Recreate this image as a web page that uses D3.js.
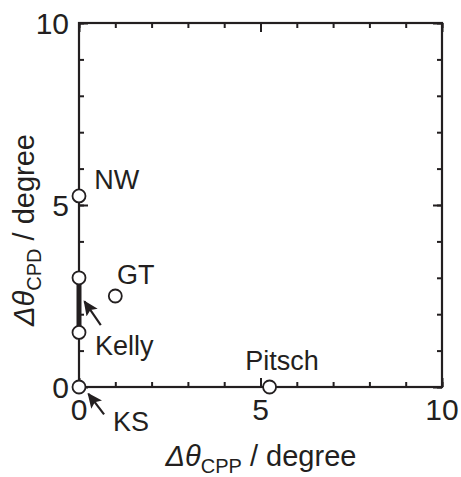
<!DOCTYPE html>
<html>
<head>
<meta charset="utf-8">
<script src="https://cdn.jsdelivr.net/npm/d3@7"></script>
<style>
  body { margin: 0; background: #fff; }
  svg { display: block; }
  text { font-family: "Liberation Sans", Arial, sans-serif; fill: #231f20; }
</style>
</head>
<body>
<div id="chart"></div>
<script>
// models and their deviations (degree)
const models = ["KS", "Kelly", "GT", "NW", "Pitsch"];
const cppValues = [0, 0, 1.0, 0, 5.25];
const cpdValues = [0, 1.5, 2.5, 5.25, 0];
// Kelly spans a range along the CPD axis
const kellyRange = [1.5, 3.0];
const majorTicks = [0, 5, 10];
const minorTicks = d3.range(0, 11);

const width = 461;
const height = 477;
const margin = { left: 79, top: 23, right: 19, bottom: 90 };
const ink = "#231f20";

const x = d3.scaleLinear().domain([0, 10]).range([margin.left, width - margin.right]);
const y = d3.scaleLinear().domain([0, 10]).range([height - margin.bottom, margin.top]);

const svg = d3.select("#chart").append("svg")
    .attr("width", width)
    .attr("height", height);

const defs = svg.append("defs");
defs.append("marker")
    .attr("id", "head")
    .attr("viewBox", "0 0 10 10")
    .attr("refX", 9)
    .attr("refY", 5)
    .attr("markerWidth", 15)
    .attr("markerHeight", 15)
    .attr("markerUnits", "userSpaceOnUse")
    .attr("orient", "auto")
    .append("path")
    .attr("d", "M0,0.5 L10,5 L0,9.5 L2,5 Z")
    .attr("fill", ink);

// ticks, all pointing inward
function drawAxis(axis, transform, values, size) {
    const g = svg.append("g")
        .attr("transform", transform)
        .call(axis.tickValues(values).tickSize(size).tickSizeOuter(0).tickFormat(""));
    g.select(".domain").remove();
    g.selectAll(".tick line").attr("stroke", ink).attr("stroke-width", 2);
}
[[minorTicks, 5], [majorTicks, 9]].forEach(([vals, len]) => {
    drawAxis(d3.axisBottom(x), `translate(0,${y(0)})`, vals, -len);
    drawAxis(d3.axisTop(x), `translate(0,${y(10)})`, vals, -len);
    drawAxis(d3.axisLeft(y), `translate(${x(0)},0)`, vals, -len);
    drawAxis(d3.axisRight(y), `translate(${x(10)},0)`, vals, -len);
});

svg.append("rect")
    .attr("x", x(0))
    .attr("y", y(10))
    .attr("width", x(10) - x(0))
    .attr("height", y(0) - y(10))
    .attr("fill", "none")
    .attr("stroke", ink)
    .attr("stroke-width", 2.2);

// tick labels
svg.append("g").selectAll("text")
    .data(majorTicks)
    .join("text")
    .attr("x", d => x(d))
    .attr("y", y(0) + 33)
    .attr("text-anchor", "middle")
    .attr("font-size", 30)
    .text(d => d);

svg.append("g").selectAll("text")
    .data(majorTicks)
    .join("text")
    .attr("x", x(0) - 10)
    .attr("y", d => y(d) + 11)
    .attr("text-anchor", "end")
    .attr("font-size", 30)
    .text(d => d);

// axis titles
const xTitle = svg.append("text")
    .attr("x", 261)
    .attr("y", 466)
    .attr("text-anchor", "middle")
    .attr("font-size", 29);
xTitle.append("tspan").attr("font-style", "italic").text("Δθ");
xTitle.append("tspan").attr("font-size", 20).attr("dy", 7).text("CPP");
xTitle.append("tspan").attr("dy", -7).text(" / degree");

const yTitle = svg.append("text")
    .attr("transform", "translate(34,230) rotate(-90)")
    .attr("text-anchor", "middle")
    .attr("font-size", 29);
yTitle.append("tspan").attr("font-style", "italic").text("Δθ");
yTitle.append("tspan").attr("font-size", 20).attr("dy", 7).text("CPD");
yTitle.append("tspan").attr("dy", -7).text(" / degree");

// Kelly range bar
svg.append("line")
    .attr("x1", x(0))
    .attr("x2", x(0))
    .attr("y1", y(kellyRange[0]))
    .attr("y2", y(kellyRange[1]))
    .attr("stroke", ink)
    .attr("stroke-width", 5);

// points
const pts = models.map((m, i) => ({ cpp: cppValues[i], cpd: cpdValues[i] }));
pts.push({ cpp: 0, cpd: kellyRange[1] });
svg.append("g").selectAll("circle")
    .data(pts)
    .join("circle")
    .attr("cx", d => x(d.cpp))
    .attr("cy", d => y(d.cpd))
    .attr("r", 6.5)
    .attr("fill", "#fff")
    .attr("stroke", ink)
    .attr("stroke-width", 1.8);

// labels
const labelPos = [
    { text: "KS", cpp: 0.94, cpd: -1.22 },
    { text: "Kelly", cpp: 0.44, cpd: 0.88 },
    { text: "GT", cpp: 1.05, cpd: 2.82 },
    { text: "NW", cpp: 0.42, cpd: 5.45 },
    { text: "Pitsch", cpp: 4.58, cpd: 0.47 }
];
svg.append("g").selectAll("text")
    .data(labelPos)
    .join("text")
    .attr("x", d => x(d.cpp))
    .attr("y", d => y(d.cpd))
    .attr("font-size", 27)
    .text(d => d.text);

// arrows
const arrows = [
    { from: [0.6, 1.7], to: [0.15, 2.35] },
    { from: [0.69, -0.75], to: [0.26, -0.19] }
];
svg.append("g").selectAll("line")
    .data(arrows)
    .join("line")
    .attr("x1", d => x(d.from[0]))
    .attr("y1", d => y(d.from[1]))
    .attr("x2", d => x(d.to[0]))
    .attr("y2", d => y(d.to[1]))
    .attr("stroke", ink)
    .attr("stroke-width", 2.2)
    .attr("marker-end", "url(#head)");
</script>
</body>
</html>
